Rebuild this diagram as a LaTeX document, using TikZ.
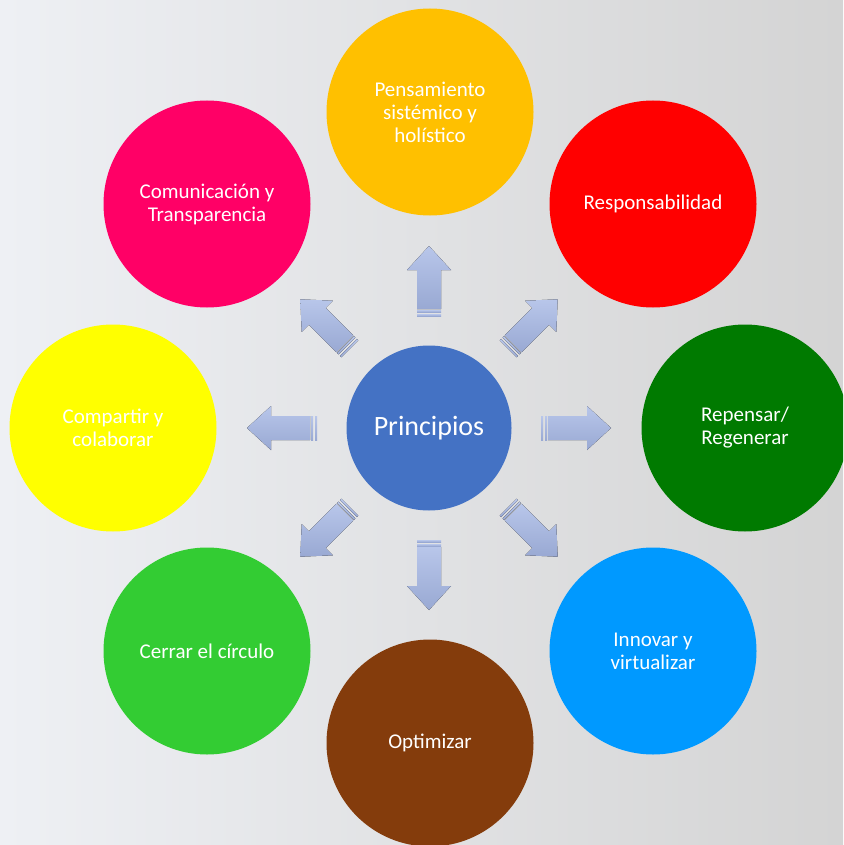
\documentclass[tikz,border=0pt]{standalone}
\usepackage{fontspec}
\setmainfont{Carlito}
\usetikzlibrary{calc}
\definecolor{fondoizq}{HTML}{EEF0F4}
\definecolor{fondoder}{HTML}{D4D4D4}
\definecolor{flechaarriba}{HTML}{B8C6EA}
\definecolor{flechaabajo}{HTML}{99A9D3}
\definecolor{centro}{HTML}{4472C4}
\definecolor{naranja}{HTML}{FFC000}
\definecolor{rojo}{HTML}{FF0000}
\definecolor{verdeosc}{HTML}{007A00}
\definecolor{celeste}{HTML}{0099FF}
\definecolor{marron}{HTML}{843C0C}
\definecolor{verde}{HTML}{33CC33}
\definecolor{amarillo}{HTML}{FFFF00}
\definecolor{rosa}{HTML}{FF0066}

\begin{document}
\begin{tikzpicture}[x=1pt,y=-1pt,
	principio/.style={circle,minimum size=207pt,inner sep=0pt,text=white,align=center,font=\fontsize{21}{23}\selectfont},
	flecha/.style={top color=flechaarriba,bottom color=flechaabajo}]
	\useasboundingbox (0,0) rectangle (843,845);
	\clip (0,0) rectangle (843,845);
	\fill [left color=fondoizq,right color=fondoder] (0,0) rectangle (843,845);
	\node [circle,fill=centro,minimum size=165pt,inner sep=0pt,text=white,font=\fontsize{28}{32}\selectfont] (prin) at (429,428) {Principios};
	\node [principio,fill=naranja] (sistema) at (430,112) {Pensamiento\\sistémico y\\holístico};
	\node [principio,fill=rojo] (respon) at (653,204) {Responsabilidad};
	\node [principio,fill=verdeosc] (repensar) at (745,428) {Repensar/\\Regenerar};
	\node [principio,fill=celeste] (innovar) at (653,651) {Innovar y\\virtualizar};
	\node [principio,fill=marron] (optimizar) at (430,743) {Optimizar};
	\node [principio,fill=verde] (cerrar) at (207,651) {Cerrar el círculo};
	\node [principio,fill=amarillo] (compartir) at (113,428) {Compartir y\\colaborar};
	\node [principio,fill=rosa] (comunic) at (207,204) {Comunicación y\\Transparencia};
	\foreach \a in {0,45,...,315}{
		\begin{scope}[shift={(prin.center)},rotate=\a]
			\fill [flecha] (119,-12) -- (158,-12) -- (158,-22) -- (182,0) -- (158,22) -- (158,12) -- (119,12) -- cycle;
			\fill [flecha] (112,-12) rectangle (114,12);
			\fill [flecha] (116,-12) rectangle (118,12);
		\end{scope}
	}
\end{tikzpicture}
\end{document}
